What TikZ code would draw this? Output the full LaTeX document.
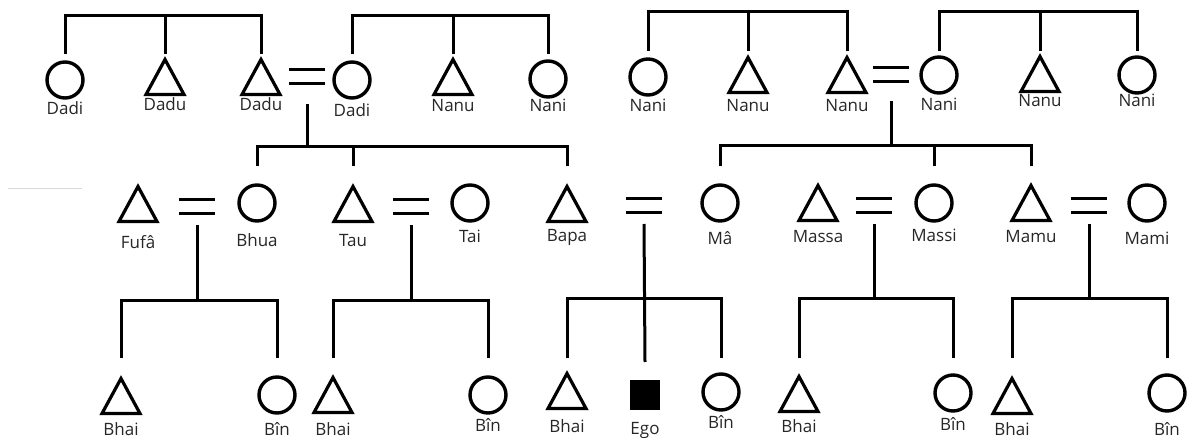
\documentclass[tikz,border=0pt]{standalone}
\usepackage{fontspec}
\setmainfont{Open Sans}
\begin{document}
\begin{tikzpicture}[x=1pt,y=-1pt,line width=3pt,
  circ/.style={circle,draw,line width=3.4pt,minimum size=36pt,inner sep=0pt},
  tribox/.style={minimum width=35pt,minimum height=32pt,inner sep=0pt},
  egobox/.style={fill=black,minimum size=30pt,inner sep=0pt},
  eqbox/.style={minimum width=33pt,minimum height=11pt,inner sep=0pt},
  lbl/.style={anchor=base,inner sep=0pt,text=black!85,font=\fontsize{17}{19}\selectfont},
  link/.style={line width=3pt}]
\useasboundingbox (0,0) rectangle (1193,438);
% faint stray rule
\coordinate (g1) at (8,189);
\coordinate (g2) at (82,189);
\draw[line width=1pt,black!15] (g1) -- (g2);

% ---------- level coordinates ----------
\coordinate (TL) at (0,16);   \coordinate (TLd) at (0,54);
\coordinate (TR) at (0,12);   \coordinate (TRd) at (0,51);
\coordinate (ML) at (0,147);  \coordinate (MR) at (0,146);
\coordinate (Md) at (0,166);
\coordinate (BL) at (0,300);  \coordinate (BR) at (0,298);
\coordinate (Bd) at (0,358);  \coordinate (Egod) at (0,362);

% ---------- top row ----------
\node[circ]   (d1) at (65,80) {};
\node[tribox] (d2) at (165,77) {};
\node[tribox] (d3) at (261,77) {};
\node[circ]   (d4) at (352,80) {};
\node[tribox] (d5) at (453,77) {};
\node[circ]   (d6) at (548,79) {};
\node[circ]   (n1) at (648,77) {};
\node[tribox] (n2) at (748,75) {};
\node[tribox] (n3) at (847,75) {};
\node[circ]   (n4) at (939,75) {};
\node[tribox] (n5) at (1040,74) {};
\node[circ]   (n6) at (1137,75) {};
\node[lbl] (ld1) at (65,115) {Dadi};
\node[lbl] (ld2) at (165,111) {Dadu};
\node[lbl] (ld3) at (261,111) {Dadu};
\node[lbl] (ld4) at (352,117) {Dadi};
\node[lbl] (ld5) at (453,112) {Nanu};
\node[lbl] (ld6) at (548,112) {Nani};
\node[lbl] (ln1) at (648,112) {Nani};
\node[lbl] (ln2) at (748,112) {Nanu};
\node[lbl] (ln3) at (847,112) {Nanu};
\node[lbl] (ln4) at (939,111) {Nani};
\node[lbl] (ln5) at (1040,107) {Nanu};
\node[lbl] (ln6) at (1137,107) {Nani};
\node[eqbox] (e1) at (307,77) {};
\node[eqbox] (e2) at (891,75) {};

% ---------- middle row ----------
\node[tribox] (m1) at (138,204) {};
\node[circ]   (m2) at (257,203) {};
\node[tribox] (m3) at (353,204) {};
\node[circ]   (m4) at (470,203) {};
\node[tribox] (m5) at (567,204) {};
\node[circ]   (m6) at (720,203) {};
\node[tribox] (m7) at (818,203) {};
\node[circ]   (m8) at (934,203) {};
\node[tribox] (m9) at (1031,203) {};
\node[circ]   (m10) at (1147,203) {};
\node[lbl] (lm1) at (138,248) {Fufâ};
\node[lbl] (lm2) at (257,247) {Bhua};
\node[lbl] (lm3) at (353,247) {Tau};
\node[lbl] (lm4) at (470,243) {Tai};
\node[lbl] (lm5) at (567,242) {Bapa};
\node[lbl] (lm6) at (720,244) {Mâ};
\node[lbl] (lm7) at (818,243) {Massa};
\node[lbl] (lm8) at (934,242) {Massi};
\node[lbl] (lm9) at (1031,243) {Mamu};
\node[lbl] (lm10) at (1147,245) {Mami};
\node[eqbox] (f1) at (197,207) {};
\node[eqbox] (f2) at (411,207) {};
\node[eqbox] (f3) at (644,206) {};
\node[eqbox] (f4) at (874,206) {};
\node[eqbox] (f5) at (1089,206) {};

% ---------- bottom row ----------
\node[tribox] (b1) at (121,396) {};
\node[circ]   (b2) at (277,395) {};
\node[tribox] (b3) at (333,395) {};
\node[circ]   (b4) at (488,395) {};
\node[tribox] (b5) at (567,391) {};
\node[egobox] (ego) at (645,395) {};
\node[circ]   (b6) at (721,392) {};
\node[tribox] (b7) at (799,394) {};
\node[circ]   (b8) at (953,393) {};
\node[tribox] (b9) at (1012,396) {};
\node[circ]   (b10) at (1167,393) {};
\node[lbl] (lb1) at (121,435) {Bhai};
\node[lbl] (lb2) at (277,435) {Bîn};
\node[lbl] (lb3) at (333,435) {Bhai};
\node[lbl] (lb4) at (488,431) {Bîn};
\node[lbl] (lb5) at (567,432) {Bhai};
\node[lbl] (lego) at (645,434) {Ego};
\node[lbl] (lb6) at (721,428) {Bîn};
\node[lbl] (lb7) at (799,432) {Bhai};
\node[lbl] (lb8) at (953,430) {Bîn};
\node[lbl] (lb9) at (1012,435) {Bhai};
\node[lbl] (lb10) at (1167,435) {Bîn};

% ---------- triangles ----------
\foreach \n in {d2,d3,d5,n2,n3,n5,m1,m3,m5,m7,m9,b1,b3,b5,b7,b9}
  \draw[line width=3.2pt,line join=miter] (\n.south west) -- (\n.north) -- (\n.south east) -- cycle;

% ---------- marriage signs ----------
\foreach \n in {e1,e2,f1,f2,f3,f4,f5}{
  \draw[link] (\n.north west) -- (\n.north east);
  \draw[link] (\n.south west) -- (\n.south east);
}

% ---------- sibling bars, top ----------
\draw[link] (d1 |- TLd) -- (d1 |- TL) -- (d3 |- TL) -- (d3 |- TLd);
\draw[link] (d2 |- TL) -- (d2 |- TLd);
\draw[link] (d4 |- TLd) -- (d4 |- TL) -- (d6 |- TL) -- (d6 |- TLd);
\draw[link] (d5 |- TL) -- (d5 |- TLd);
\draw[link] (n1 |- TRd) -- (n1 |- TR) -- (n3 |- TR) -- (n3 |- TRd);
\draw[link] (n2 |- TR) -- (n2 |- TRd);
\draw[link] (n4 |- TRd) -- (n4 |- TR) -- (n6 |- TR) -- (n6 |- TRd);
\draw[link] (n5 |- TR) -- (n5 |- TRd);

% ---------- descent, top couples ----------
\draw[link] ([yshift=-20pt]e1.south) -- (e1 |- ML);
\draw[link] (m2 |- Md) -- (m2 |- ML) -- (m5 |- ML) -- (m5 |- Md);
\draw[link] (m3 |- ML) -- (m3 |- Md);
\draw[link] ([yshift=-19pt]e2.south) -- (e2 |- MR);
\draw[link] (m6 |- Md) -- (m6 |- MR) -- (m9 |- MR) -- (m9 |- Md);
\draw[link] (m8 |- MR) -- (m8 |- Md);

% ---------- descent, middle couples ----------
\draw[link] ([yshift=-11pt]f1.south) -- (f1 |- BL);
\draw[link] (b1 |- Bd) -- (b1 |- BL) -- (b2 |- BL) -- (b2 |- Bd);
\draw[link] ([yshift=-11pt]f2.south) -- (f2 |- BL);
\draw[link] (b3 |- Bd) -- (b3 |- BL) -- (b4 |- BL) -- (b4 |- Bd);
\draw[link] ([yshift=-11pt]f3.south) -- (ego |- Egod);
\draw[link] (b5 |- Bd) -- (b5 |- BR) -- (b6 |- BR) -- (b6 |- Bd);
\draw[link] ([yshift=-11pt]f4.south) -- (f4 |- BR);
\draw[link] (b7 |- Bd) -- (b7 |- BR) -- (b8 |- BR) -- (b8 |- Bd);
\draw[link] ([yshift=-11pt]f5.south) -- (f5 |- BR);
\draw[link] (b9 |- Bd) -- (b9 |- BR) -- (b10 |- BR) -- (b10 |- Bd);
\end{tikzpicture}
\end{document}
